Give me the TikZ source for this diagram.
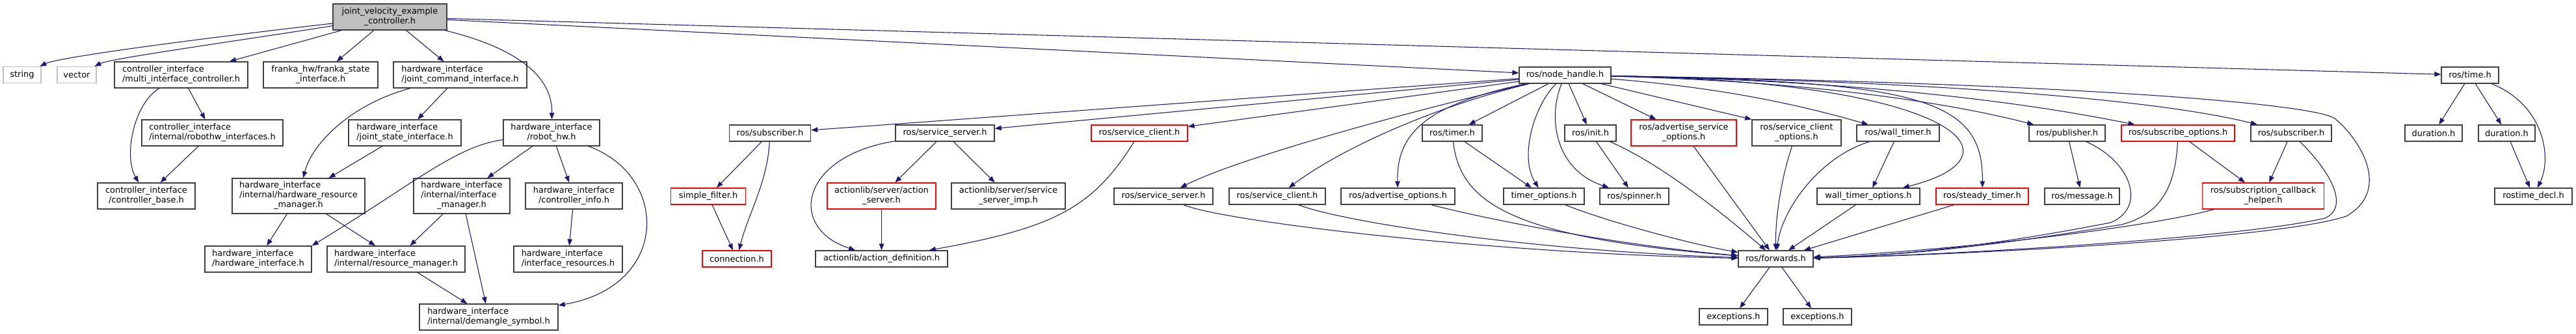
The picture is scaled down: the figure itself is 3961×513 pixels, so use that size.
\documentclass[tikz,border=0pt]{standalone}
\usepackage{fontspec}
\setmainfont{DejaVu Sans}
\usepackage{tikz}
\usepackage{xcolor}
\usetikzlibrary{arrows.meta}
\definecolor{midnight}{HTML}{191970}
\definecolor{boxgray}{HTML}{404040}
\definecolor{rootgray}{HTML}{BFBFBF}
\definecolor{extgray}{HTML}{BFBFBF}
\definecolor{truncred}{HTML}{FF0000}
\newcommand{\incfont}{\fontsize{9.7pt}{11.25pt}\selectfont}
\tikzset{
    inc-box/.style = {draw=boxgray, fill=white, line width=1pt, rectangle, inner sep=0pt, minimum height=18.75pt, align=center, font=\incfont},
    inc-box-root/.style = {inc-box, fill=rootgray},
    inc-box-red/.style = {inc-box, draw=truncred},
    inc-box-ext/.style = {inc-box, draw=extgray},
    two-line/.style = {minimum height=30pt},
    three-line/.style = {minimum height=40.5pt},
    boxw/.style = {minimum width=#1*0.75pt},
    inc-arrow/.style = {draw=midnight, line width=0.8pt, -{Triangle[length=7.5pt,width=5.6pt]}},
}

\begin{document}
\begin{tikzpicture}[x=0.75pt, y=-0.75pt]
\fill[white] (0,0) rectangle (3961,513);
\useasboundingbox (0,0) rectangle (3961,513);

% top row
\node[inc-box-root, two-line, boxw=175] (root) at (599.5,26) {joint\_velocity\_example\\\_controller.h};
\node[inc-box-ext, boxw=58] (string) at (34,115) {string};
\node[inc-box-ext, boxw=60] (vector) at (118,115) {vector};
\node[inc-box, two-line, boxw=205, align=left] (multi-ctrl) at (278.5,115) {controller\_interface\\/multi\_interface\_controller.h};
\node[inc-box, two-line, boxw=176] (franka-state) at (493,115) {franka\_hw/franka\_state\\\_interface.h};
\node[inc-box, two-line, boxw=205, align=left] (joint-cmd) at (707.5,115) {hardware\_interface\\/joint\_command\_interface.h};
\node[inc-box, boxw=141] (node-handle) at (2406.5,115.5) {ros/node\_handle.h};
\node[inc-box, boxw=88] (ros-time) at (3798,115.5) {ros/time.h};

% second row
\node[inc-box, two-line, boxw=217, align=left] (robothw-ifaces) at (326.5,204) {controller\_interface\\/internal/robothw\_interfaces.h};
\node[inc-box, two-line, boxw=173, align=left] (joint-state) at (622.5,204) {hardware\_interface\\/joint\_state\_interface.h};
\node[inc-box, two-line, boxw=148] (robot-hw) at (848,204) {hardware\_interface\\/robot\_hw.h};
\node[inc-box, boxw=125] (subscriber-a) at (1184,204.5) {ros/subscriber.h};
\node[inc-box, boxw=152] (service-server-a) at (1453,204.5) {ros/service\_server.h};
\node[inc-box-red, boxw=148] (service-client-a) at (1752,204.5) {ros/service\_client.h};
\node[inc-box, boxw=92] (ros-timer) at (2233,204.5) {ros/timer.h};
\node[inc-box, boxw=79] (ros-init) at (2445.5,204.5) {ros/init.h};
\node[inc-box-red, two-line, boxw=162] (adv-srv-opts) at (2589,204) {ros/advertise\_service\\\_options.h};
\node[inc-box, two-line, boxw=137] (srv-client-opts) at (2762.5,204) {ros/service\_client\\\_options.h};
\node[inc-box, boxw=127] (wall-timer) at (2918.5,204.5) {ros/wall\_timer.h};
\node[inc-box, boxw=117] (publisher) at (3178.5,204.5) {ros/publisher.h};
\node[inc-box-red, boxw=174] (subscribe-opts) at (3349,204.5) {ros/subscribe\_options.h};
\node[inc-box, boxw=124] (subscriber-b) at (3523,204.5) {ros/subscriber.h};
\node[inc-box, boxw=88] (duration-a) at (3742,204.5) {duration.h};
\node[inc-box, boxw=87] (duration-b) at (3854.5,204.5) {duration.h};

% third row
\node[inc-box, two-line, boxw=150] (ctrl-base) at (225,301) {controller\_interface\\/controller\_base.h};
\node[inc-box, three-line, boxw=204] (hw-res-mgr) at (459,301) {\begin{tabular}{@{}l@{}}hardware\_interface\\/internal/hardware\_resource\\\multicolumn{1}{@{}c@{}}{\_manager.h}\end{tabular}};
\node[inc-box, three-line, boxw=148] (iface-mgr) at (710,301) {\begin{tabular}{@{}l@{}}hardware\_interface\\/internal/interface\\\multicolumn{1}{@{}c@{}}{\_manager.h}\end{tabular}};
\node[inc-box, two-line, boxw=149] (ctrl-info) at (882.5,301) {hardware\_interface\\/controller\_info.h};
\node[inc-box-red, boxw=115] (simple-filter) at (1089,301.5) {simple\_filter.h};
\node[inc-box-red, two-line, boxw=167] (action-server) at (1355.5,301) {actionlib/server/action\\\_server.h};
\node[inc-box, two-line, boxw=175] (srv-server-imp) at (1550.5,301) {actionlib/server/service\\\_server\_imp.h};
\node[inc-box, boxw=152] (service-server-b) at (1789,301.5) {ros/service\_server.h};
\node[inc-box, boxw=148] (service-client-b) at (1964,301.5) {ros/service\_client.h};
\node[inc-box, boxw=175] (adv-opts) at (2149.5,301.5) {ros/advertise\_options.h};
\node[inc-box, boxw=124] (timer-opts) at (2374,301.5) {timer\_options.h};
\node[inc-box, boxw=106] (ros-spinner) at (2513,301.5) {ros/spinner.h};
\node[inc-box, boxw=158] (wall-timer-opts) at (2873,301.5) {wall\_timer\_options.h};
\node[inc-box-red, boxw=142] (steady-timer) at (3048,301.5) {ros/steady\_timer.h};
\node[inc-box, boxw=115] (ros-message) at (3201.5,301.5) {ros/message.h};
\node[inc-box-red, two-line, boxw=187] (sub-cb-helper) at (3480,301) {ros/subscription\_callback\\\_helper.h};
\node[inc-box, boxw=119] (rostime-decl) at (3895.5,301.5) {rostime\_decl.h};

% fourth and fifth row
\node[inc-box, two-line, boxw=164, align=left] (hw-iface) at (397,398) {hardware\_interface\\/hardware\_interface.h};
\node[inc-box, two-line, boxw=212, align=left] (res-mgr) at (609,398) {hardware\_interface\\/internal/resource\_manager.h};
\node[inc-box, two-line, boxw=167, align=left] (iface-res) at (873.5,398) {hardware\_interface\\/interface\_resources.h};
\node[inc-box-red, boxw=106] (connection) at (1133,397.5) {connection.h};
\node[inc-box, boxw=203] (action-def) at (1355.5,397.5) {actionlib/action\_definition.h};
\node[inc-box, boxw=115] (forwards) at (2730.5,397.5) {ros/forwards.h};
\node[inc-box, two-line, boxw=213, align=left] (demangle) at (751.5,487) {hardware\_interface\\/internal/demangle\_symbol.h};
\node[inc-box, boxw=105] (exceptions-a) at (2665.5,486.5) {exceptions.h};
\node[inc-box, boxw=105] (exceptions-b) at (2794.5,486.5) {exceptions.h};

% includes of the root file
\draw[inc-arrow] (root) .. controls (300,60) and (90,88) .. (string);
\draw[inc-arrow] (root) .. controls (330,68) and (170,90) .. (vector);
\draw[inc-arrow] (root) -- (multi-ctrl);
\draw[inc-arrow] (root) -- (franka-state);
\draw[inc-arrow] (root) -- (joint-cmd);
\draw[inc-arrow] (root) .. controls (780,70) and (850,110) .. (robot-hw);
\draw[inc-arrow] (root) -- (node-handle);
\draw[inc-arrow] (root) -- (ros-time);

% controller and hardware interfaces
\draw[inc-arrow] (multi-ctrl) -- (robothw-ifaces);
\draw[inc-arrow] (multi-ctrl) .. controls (205,160) and (190,240) .. (ctrl-base);
\draw[inc-arrow] (robothw-ifaces) -- (ctrl-base);
\draw[inc-arrow] (joint-cmd) -- (joint-state);
\draw[inc-arrow] (joint-cmd) .. controls (540,160) and (480,220) .. (hw-res-mgr);
\draw[inc-arrow] (joint-state) -- (hw-res-mgr);
\draw[inc-arrow] (robot-hw) .. controls (700,225) and (640,280) .. (hw-iface.north east);
\draw[inc-arrow] (robot-hw) -- (iface-mgr);
\draw[inc-arrow] (robot-hw) -- (ctrl-info);
\draw[inc-arrow] (robot-hw) .. controls (1030,270) and (1030,440) .. (demangle);
\draw[inc-arrow] (hw-res-mgr) -- (hw-iface);
\draw[inc-arrow] (hw-res-mgr) -- (res-mgr);
\draw[inc-arrow] (iface-mgr) -- (res-mgr);
\draw[inc-arrow] (iface-mgr) -- (demangle);
\draw[inc-arrow] (res-mgr) -- (demangle);
\draw[inc-arrow] (ctrl-info) -- (iface-res);

% node handle
\draw[inc-arrow] (node-handle) -- (subscriber-a);
\draw[inc-arrow] (node-handle) -- (service-server-a);
\draw[inc-arrow] (node-handle) -- (service-client-a);
\draw[inc-arrow] (node-handle) .. controls (2150,175) and (1900,245) .. (service-server-b);
\draw[inc-arrow] (node-handle) .. controls (2200,165) and (2060,230) .. (service-client-b);
\draw[inc-arrow] (node-handle) .. controls (2200,160) and (2147,200) .. (adv-opts);
\draw[inc-arrow] (node-handle) -- (ros-timer);
\draw[inc-arrow] (node-handle) .. controls (2360,160) and (2335,240) .. (timer-opts);
\draw[inc-arrow] (node-handle) -- (ros-init);
\draw[inc-arrow] (node-handle) .. controls (2380,180) and (2390,260) .. (ros-spinner);
\draw[inc-arrow] (node-handle) -- (adv-srv-opts);
\draw[inc-arrow] (node-handle) -- (srv-client-opts.north west);
\draw[inc-arrow] (node-handle) .. controls (2650,135) and (2767,161) .. (wall-timer);
\draw[inc-arrow] (node-handle) .. controls (3010,125) and (3120,240) .. (wall-timer-opts);
\draw[inc-arrow] (node-handle) .. controls (2950,125) and (3050,150) .. (steady-timer);
\draw[inc-arrow] (node-handle) .. controls (2800,125) and (3009,161) .. (publisher);
\draw[inc-arrow] (node-handle) .. controls (2950,125) and (3200,175) .. (subscribe-opts);
\draw[inc-arrow] (node-handle) .. controls (3000,125) and (3327,155) .. (subscriber-b);
\draw[inc-arrow] (node-handle) .. controls (3200,128) and (3560,160) .. (3590,182) .. controls (3625,210) and (3680,290) .. (3608,332) .. controls (3500,368) and (3000,392) .. (forwards);

% subscriber, services and actionlib
\draw[inc-arrow] (subscriber-a) -- (simple-filter);
\draw[inc-arrow] (subscriber-a) .. controls (1180,280) and (1150,330) .. (connection);
\draw[inc-arrow] (simple-filter) -- (connection);
\draw[inc-arrow] (service-server-a) -- (action-server);
\draw[inc-arrow] (service-server-a) -- (srv-server-imp);
\draw[inc-arrow] (service-server-a) .. controls (1230,240) and (1210,350) .. (action-def);
\draw[inc-arrow] (action-server) -- (action-def);
\draw[inc-arrow] (service-client-a) .. controls (1680,320) and (1620,350) .. (action-def);

% everything that leads to ros/forwards.h
\draw[inc-arrow] (service-server-b) .. controls (1880,340) and (2300,390) .. (forwards);
\draw[inc-arrow] (service-client-b) .. controls (2060,340) and (2350,385) .. (forwards);
\draw[inc-arrow] (adv-opts) .. controls (2300,340) and (2500,378) .. (forwards);
\draw[inc-arrow] (ros-timer) -- (timer-opts);
\draw[inc-arrow] (ros-timer) .. controls (2245,310) and (2320,365) .. (forwards);
\draw[inc-arrow] (timer-opts) .. controls (2470,340) and (2600,375) .. (forwards);
\draw[inc-arrow] (ros-init) -- (ros-spinner);
\draw[inc-arrow] (ros-init) .. controls (2550,250) and (2640,320) .. (forwards);
\draw[inc-arrow] (adv-srv-opts) -- (forwards);
\draw[inc-arrow] (srv-client-opts) .. controls (2740,270) and (2730,330) .. (forwards);
\draw[inc-arrow] (wall-timer) -- (wall-timer-opts);
\draw[inc-arrow] (wall-timer) .. controls (2800,240) and (2740,320) .. (forwards);
\draw[inc-arrow] (wall-timer-opts) -- (forwards);
\draw[inc-arrow] (steady-timer) -- (forwards);
\draw[inc-arrow] (publisher) -- (ros-message);
\draw[inc-arrow] (publisher) .. controls (3280,250) and (3300,320) .. (3245,342) .. controls (3100,370) and (2950,392) .. (forwards);
\draw[inc-arrow] (subscribe-opts) -- (sub-cb-helper);
\draw[inc-arrow] (subscribe-opts) .. controls (3345,290) and (3320,330) .. (3262,345) .. controls (3100,372) and (2950,392) .. (forwards);
\draw[inc-arrow] (subscriber-b) -- (sub-cb-helper);
\draw[inc-arrow] (subscriber-b) .. controls (3590,270) and (3610,320) .. (3575,335) .. controls (3450,365) and (3000,392) .. (forwards);
\draw[inc-arrow] (sub-cb-helper) .. controls (3300,350) and (3000,385) .. (forwards);
\draw[inc-arrow] (forwards) -- (exceptions-a);
\draw[inc-arrow] (forwards) -- (exceptions-b);

% ros/time.h
\draw[inc-arrow] (ros-time) -- (duration-a);
\draw[inc-arrow] (ros-time) -- (duration-b);
\draw[inc-arrow] (ros-time) .. controls (3910,160) and (3925,240) .. (rostime-decl);
\draw[inc-arrow] (duration-b) -- (rostime-decl);
\end{tikzpicture}
\end{document}
